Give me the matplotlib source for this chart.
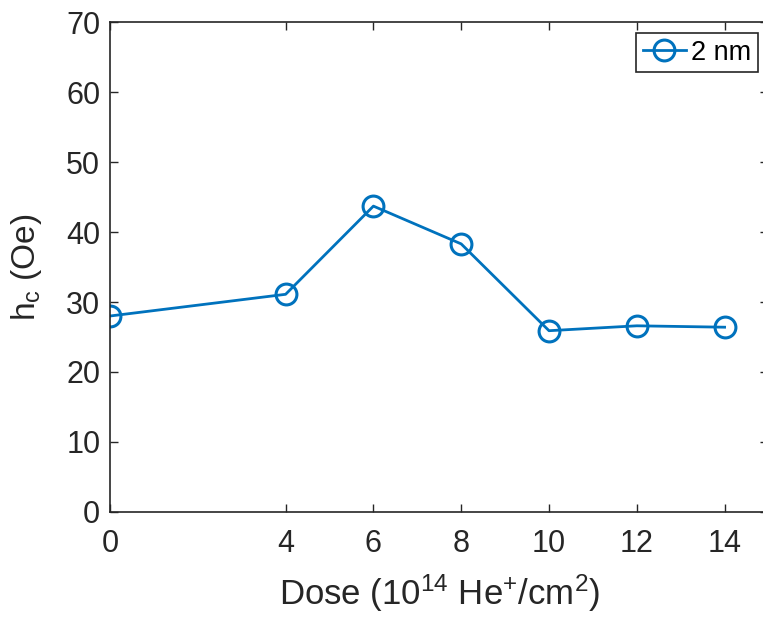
import numpy as np
import matplotlib
matplotlib.use('Agg')
import matplotlib.pyplot as plt

# data
dose = [0, 4, 6, 8, 10, 12, 14]
hc = [28.0, 31.1, 43.7, 38.3, 25.9, 26.6, 26.4]
xtick_vals = [0, 4, 6, 8, 10, 12, 14]
ytick_vals = [0, 10, 20, 30, 40, 50, 60, 70]

plt.rcParams['font.family'] = ['Liberation Sans', 'DejaVu Sans']
plt.rcParams['mathtext.default'] = 'regular'

ink = '#262626'
blue = '#0072BD'

fig = plt.figure(figsize=(7.63, 6.17), dpi=100)
ax = fig.add_axes([0.1442, 0.1702, 0.863, 0.7941])

ax.plot(dose, hc, '-o', color=blue, lw=2, markersize=15, mfc='none',
        mew=2.2, label='2 nm')

ax.set_xlim(0, 15)
ax.set_ylim(0, 70)
ax.set_xticks(xtick_vals)
ax.set_yticks(ytick_vals)
ax.tick_params(direction='in', length=6, width=1, colors=ink, labelsize=22,
               top=True, right=True)
ax.tick_params(axis='x', pad=12)
ax.tick_params(axis='y', pad=7)
for s in ax.spines.values():
    s.set_color(ink)
    s.set_linewidth(1.2)

ax.set_xlabel('Dose (10$^{14}$ He$^{+}$/cm$^{2}$)', fontsize=25, color=ink, labelpad=10)
ax.set_ylabel('h$_c$ (Oe)', fontsize=24, color=ink, labelpad=16)

leg = ax.legend(loc='upper right', fontsize=19.5, fancybox=False, framealpha=1,
                edgecolor=ink, handlelength=1.6, handletextpad=0.2,
                borderpad=0.25, borderaxespad=0.4,
                bbox_to_anchor=(1.001, 1.0))
leg.get_frame().set_linewidth(1.2)

fig.savefig('out.png', dpi=100)
